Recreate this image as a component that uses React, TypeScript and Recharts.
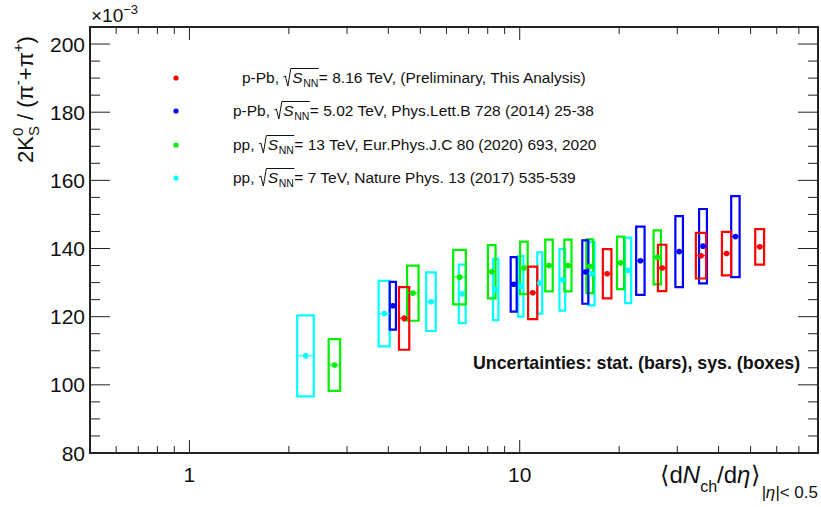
import React from 'react'
import { ScatterChart, Scatter, XAxis, YAxis, ReferenceArea, ErrorBar } from 'recharts'

// <dN_ch/deta> and 2K0S/(pi- + pi+) (x10^-3) per multiplicity class
const pPb816X = [4.47, 10.95, 18.4, 27.0, 35.4, 42.3, 53.3]
const pPb816Y = [119.5, 127.0, 132.6, 134.3, 137.9, 138.5, 140.5]
const pPb816Stat = [0.9, 0.6, 0.6, 0.6, 0.7, 0.7, 0.8]
const pPb816Sys = [9.2, 7.7, 7.2, 6.8, 6.7, 6.4, 5.2]
const pPb816XErr = [0.16, 0.35, 0.55, 0.79, 1.26, 1.35, 1.65]

const pPb502X = [4.13, 9.59, 15.8, 23.2, 30.4, 35.9, 45.0]
const pPb502Y = [123.2, 129.5, 133.1, 136.4, 139.1, 140.7, 143.5]
const pPb502Stat = [0.6, 0.5, 0.5, 0.5, 0.5, 0.6, 0.6]
const pPb502Sys = [7.0, 8.0, 9.3, 10.0, 10.4, 10.9, 11.9]
const pPb502XErr = [0.09, 0.2, 0.33, 0.68, 0.8, 0.98, 1.32]

const pp13X = [2.75, 4.75, 6.58, 8.23, 10.3, 12.27, 14.0, 16.3, 20.2, 26.1]
const pp13Y = [105.8, 126.9, 131.6, 133.2, 134.3, 135.0, 135.0, 134.8, 135.8, 137.4]
const pp13Stat = [0.5, 0.4, 0.4, 0.4, 0.4, 0.4, 0.4, 0.4, 0.4, 0.5]
const pp13Sys = [7.6, 8.1, 8.0, 7.8, 7.7, 7.6, 7.6, 7.9, 7.7, 7.9]
const pp13XErr = [0.11, 0.19, 0.29, 0.22, 0.27, 0.32, 0.35, 0.39, 0.5, 0.67]

const pp7X = [2.25, 3.89, 5.39, 6.7, 8.46, 10.07, 11.5, 13.46, 16.5, 21.3]
const pp7Y = [108.5, 120.9, 124.4, 126.7, 128.0, 128.9, 129.9, 130.8, 132.6, 133.6]
const pp7Stat = [0.8, 0.6, 0.5, 0.5, 0.5, 0.5, 0.5, 0.5, 0.5, 0.5]
const pp7Sys = [11.9, 9.6, 8.6, 8.6, 9.0, 8.9, 9.0, 9.0, 9.3, 9.6]
const pp7XErr = [0.13, 0.15, 0.18, 0.16, 0.16, 0.19, 0.2, 0.27, 0.35, 0.45]

const xTicks = [0.6, 0.7, 0.8, 0.9, 1, 2, 3, 4, 5, 6, 7, 8, 9, 10, 20, 30, 40, 50, 60, 70, 80]
const xLabelled = [1, 10]
const yTicks = [80, 85, 90, 95, 100, 105, 110, 115, 120, 125, 130, 135, 140, 145, 150, 155, 160, 165, 170, 175, 180, 185, 190, 195, 200]
const yLabelled = [80, 100, 120, 140, 160, 180, 200]

const W = 821
const H = 507
const PL = 90
const PR = 818
const PT = 27
const PB = 453
const FONT = '"Liberation Sans", Arial, Helvetica, sans-serif'

type Pt = { x: number; y: number; stat: number; sys: number; xErr: number }

function build(x: number[], y: number[], stat: number[], sys: number[], xErr: number[]): Pt[] {
  return x.map((v, i) => ({ x: v, y: y[i], stat: stat[i], sys: sys[i], xErr: xErr[i] }))
}

const series = [
  { name: 'pp7', color: '#00ffff', data: build(pp7X, pp7Y, pp7Stat, pp7Sys, pp7XErr) },
  { name: 'pp13', color: '#00ee00', data: build(pp13X, pp13Y, pp13Stat, pp13Sys, pp13XErr) },
  { name: 'pPb502', color: '#0000ff', data: build(pPb502X, pPb502Y, pPb502Stat, pPb502Sys, pPb502XErr) },
  { name: 'pPb816', color: '#ff0000', data: build(pPb816X, pPb816Y, pPb816Stat, pPb816Sys, pPb816XErr) },
]

const legendRows = [
  { color: '#ff0000', prefix: 'p-Pb, ', suffix: '= 8.16 TeV, (Preliminary, This Analysis)', x: 242 },
  { color: '#0000ff', prefix: 'p-Pb, ', suffix: '= 5.02 TeV, Phys.Lett.B 728 (2014) 25-38', x: 233 },
  { color: '#00ee00', prefix: 'pp, ', suffix: '= 13 TeV, Eur.Phys.J.C 80 (2020) 693, 2020', x: 233 },
  { color: '#00ffff', prefix: 'pp, ', suffix: '= 7 TeV, Nature Phys. 13 (2017) 535-539', x: 233 },
]

let measureCtx: CanvasRenderingContext2D | null = null
function textWidth(s: string, font: string) {
  if (!measureCtx) measureCtx = document.createElement('canvas').getContext('2d')
  if (!measureCtx) return s.length * 7
  measureCtx.font = font
  return measureCtx.measureText(s).width
}

// ticks on all four sides of the frame, pointing inwards
function XTick(props: any) {
  const { x, payload } = props
  const v = payload.value
  const major = xLabelled.includes(v)
  const len = major ? 13 : 7
  return (
    <g>
      <line x1={x} x2={x} y1={PB} y2={PB - len} stroke="#222" strokeWidth={1} />
      <line x1={x} x2={x} y1={PT} y2={PT + len} stroke="#222" strokeWidth={1} />
      {major && (
        <text x={x} y={482} textAnchor="middle" fontSize={21} fontFamily={FONT} fill="#111">
          {v}
        </text>
      )}
    </g>
  )
}

function YTick(props: any) {
  const { y, payload } = props
  const v = payload.value
  const major = yLabelled.includes(v)
  const len = major ? 20 : 10
  return (
    <g>
      <line x1={PL} x2={PL + len} y1={y} y2={y} stroke="#222" strokeWidth={1} />
      <line x1={PR} x2={PR - len} y1={y} y2={y} stroke="#222" strokeWidth={1} />
      {major && (
        <text x={PL - 5} y={y + 7.5} textAnchor="end" fontSize={21} fontFamily={FONT} fill="#111">
          {v}
        </text>
      )}
    </g>
  )
}

function LegendRow({ row, y }: { row: (typeof legendRows)[number]; y: number }) {
  const fs = 15.5
  const wPre = textWidth(row.prefix, `${fs}px ${FONT}`)
  const rx = row.x + wPre
  const sx = rx + 9
  const wS = textWidth('S', `italic ${fs}px ${FONT}`)
  const nx = sx + wS + 0.5
  const wN = textWidth('NN', `10.5px ${FONT}`)
  const ex = nx + wN + 0.5
  return (
    <g fontFamily={FONT} fill="#111">
      <circle cx={176} cy={y - 5} r={2.6} fill={row.color} />
      <text x={row.x} y={y} fontSize={fs}>{row.prefix}</text>
      <path
        d={`M${rx},${y - 6} L${rx + 2},${y - 7} L${rx + 4.5},${y + 3} L${rx + 7.5},${y - 14.5} L${ex},${y - 14.5}`}
        stroke="#111"
        fill="none"
        strokeWidth={1}
      />
      <text x={sx} y={y} fontSize={fs} fontStyle="italic">S</text>
      <text x={nx} y={y + 4} fontSize={10.5}>NN</text>
      <text x={ex} y={y} fontSize={fs}>{row.suffix}</text>
    </g>
  )
}

export default function App() {
  return (
    <div style={{ position: 'absolute', left: 0, top: 0, width: W, height: H, background: '#fff' }}>
      <ScatterChart width={W} height={H} margin={{ top: PT, right: W - PR, bottom: 0, left: 0 }}>
        <XAxis
          type="number"
          dataKey="x"
          scale="log"
          domain={[0.5, 80]}
          allowDataOverflow
          ticks={xTicks}
          interval={0}
          height={H - PB}
          axisLine={false}
          tickLine={false}
          tick={<XTick />}
        />
        <YAxis
          type="number"
          dataKey="y"
          domain={[80, 205]}
          allowDataOverflow
          ticks={yTicks}
          interval={0}
          width={PL}
          axisLine={false}
          tickLine={false}
          tick={<YTick />}
        />
        {series.map(s =>
          s.data.map((p, i) => (
            <ReferenceArea
              key={`${s.name}-box-${i}`}
              x1={p.x - p.xErr}
              x2={p.x + p.xErr}
              y1={p.y - p.sys}
              y2={p.y + p.sys}
              fill="none"
              fillOpacity={0}
              stroke={s.color}
              strokeWidth={2.2}
              ifOverflow="visible"
            />
          ))
        )}
        {series.map(s => (
          <Scatter
            key={s.name}
            data={s.data}
            isAnimationActive={false}
            shape={(p: any) => <circle cx={p.cx} cy={p.cy} r={2.8} fill={s.color} />}
          >
            <ErrorBar dataKey="xErr" direction="x" width={0} stroke={s.color} strokeWidth={1} />
            <ErrorBar dataKey="stat" direction="y" width={0} stroke={s.color} strokeWidth={1.5} />
          </Scatter>
        ))}
      </ScatterChart>

      <svg
        width={W}
        height={H}
        style={{ position: 'absolute', left: 0, top: 0, pointerEvents: 'none' }}
        fontFamily={FONT}
      >
        <rect x={PL} y={PT} width={PR - PL} height={PB - PT} fill="none" stroke="#222" strokeWidth={2} />

        <text x={91} y={22} fontSize={19} fill="#111">
          ×10<tspan fontSize={13} dy={-8}>−3</tspan>
        </text>

        <g transform="translate(33,163) rotate(-90)">
          <text x={0} y={0} fontSize={22} fill="#111">
            2K<tspan fontSize={15} dy={-10}>0</tspan>
            <tspan fontSize={15} dx={-8.3} dy={16}>S</tspan>
            <tspan dy={-6}> / (π</tspan>
            <tspan fontSize={15} dy={-10}>-</tspan>
            <tspan dy={10}>+π</tspan>
            <tspan fontSize={15} dy={-10}>+</tspan>
            <tspan dy={10}>)</tspan>
          </text>
        </g>

        <text x={818} y={483} textAnchor="end" fontSize={24} fill="#111">
          ⟨d<tspan fontStyle="italic">N</tspan>
          <tspan fontSize={16} dy={9}>ch</tspan>
          <tspan dy={-9}>/d</tspan>
          <tspan fontStyle="italic">η</tspan>
          <tspan dx={1}>⟩</tspan>
          <tspan fontSize={17} dy={15} dx={1} fontStyle="italic">|η|</tspan>
          <tspan fontSize={17}>&lt; 0.5</tspan>
        </text>

        {legendRows.map((row, i) => (
          <LegendRow key={i} row={row} y={[83, 116, 150, 183][i]} />
        ))}

        <text x={473} y={369} fontSize={17.8} fontWeight="bold" fill="#111">
          Uncertainties: stat. (bars), sys. (boxes)
        </text>
      </svg>
    </div>
  )
}
